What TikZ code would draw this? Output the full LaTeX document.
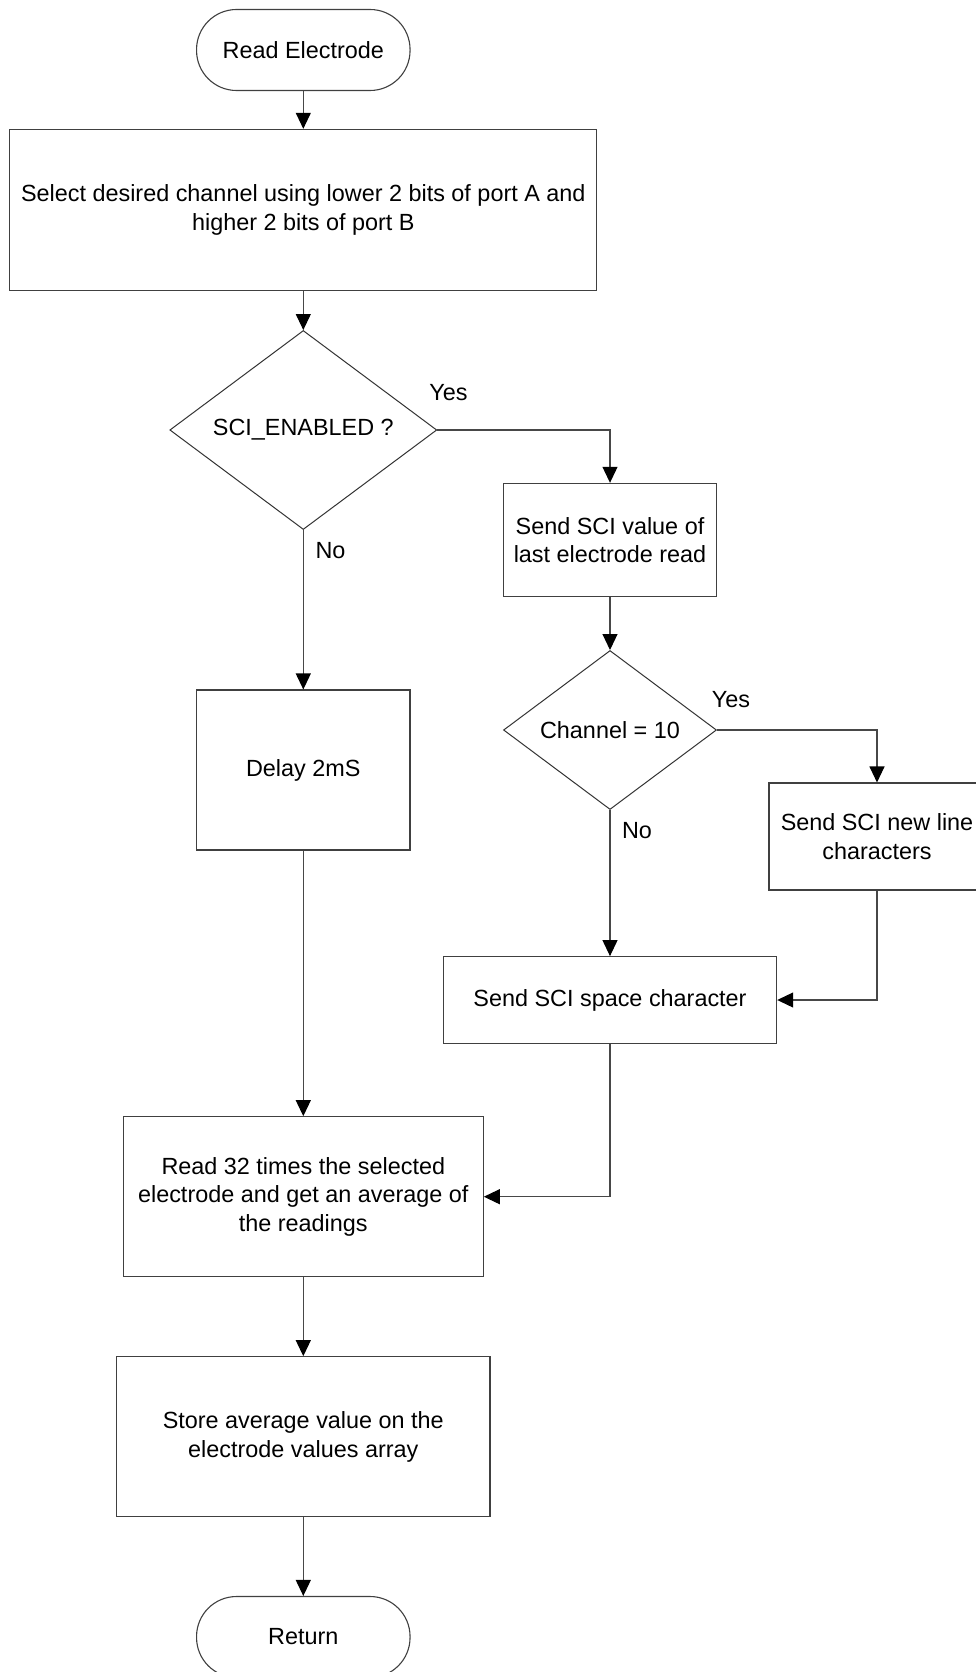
\documentclass[tikz,border=0pt]{standalone}
\usepackage{fontspec}
\setmainfont{Liberation Sans}
\usetikzlibrary{shapes.geometric,arrows.meta}
\begin{document}
\begin{tikzpicture}[x=1pt,y=-1pt,
  txt/.style={font=\fontsize{23.4}{28.5}\selectfont, text=black},
  line/.style={draw=black!72, line width=1.1pt},
  arr/.style={line, -{Triangle[length=16pt,width=15pt,color=black]}},
  proc/.style={txt, draw=black!75, line width=1.1pt, rectangle, inner sep=0pt, align=center},
  term/.style={proc, rounded corners=40pt},
  decide/.style={txt, draw=black!80, line width=1pt, diamond, shape aspect=1.34, inner sep=0pt},
  lbl/.style={txt, inner sep=0pt}
]
\fill[white] (0,0) rectangle (975,1672);
\useasboundingbox (0,0) rectangle (975,1672);

\node[term, minimum width=213.5pt, minimum height=81pt] (start) at (303.3,50) {Read Electrode};
\node[proc, minimum width=587pt, minimum height=160.7pt] (box1) at (303.3,209.7)
  {Select desired channel using lower 2 bits of port A and\\higher 2 bits of port B};
\node[decide, minimum width=267pt, minimum height=199pt] (dec1) at (303.3,430) {SCI\_ENABLED ?};
\node[lbl] (yes1) at (448.5,393) {Yes};
\node[lbl] (no1) at (330.5,551) {No};
\node[proc, minimum width=213.3pt, minimum height=113.3pt] (box2) at (610,540)
  {Send SCI value of\\last electrode read};
\node[decide, minimum width=213pt, minimum height=159pt] (dec2) at (610,730) {Channel = 10};
\node[lbl] (yes2) at (731,700) {Yes};
\node[lbl] (no2) at (637,831) {No};
\node[proc, minimum width=216pt, minimum height=107pt] (box3) at (877,836.5)
  {Send SCI new line\\characters};
\node[proc, minimum width=333.3pt, minimum height=86.7pt] (box4) at (610,1000)
  {Send SCI space character};
\node[proc, minimum width=213.3pt, minimum height=160pt] (delay) at (303.3,770) {Delay 2mS};
\node[proc, minimum width=360pt, minimum height=160pt] (box5) at (303.3,1196.7)
  {Read 32 times the selected\\electrode and get an average of\\the readings};
\node[proc, minimum width=373.3pt, minimum height=160pt] (box6) at (303.3,1436.7)
  {Store average value on the\\electrode values array};
\node[term, minimum width=213.5pt, minimum height=81pt] (ret) at (303.3,1637) {Return};

\draw[arr] (start.south) -- (box1.north);
\draw[arr] (box1.south) -- (dec1.north);
\draw[arr] (dec1.east) -| (box2.north);
\draw[arr] (dec1.south) -- (delay.north);
\draw[arr] (box2.south) -- (dec2.north);
\draw[arr] (dec2.east) -| (box3.north);
\draw[arr] (dec2.south) -- (box4.north);
\draw[arr] (box3.south) |- (box4.east);
\draw[arr] (box4.south) |- (box5.east);
\draw[arr] (delay.south) -- (box5.north);
\draw[arr] (box5.south) -- (box6.north);
\draw[arr] (box6.south) -- (ret.north);
\end{tikzpicture}
\end{document}
